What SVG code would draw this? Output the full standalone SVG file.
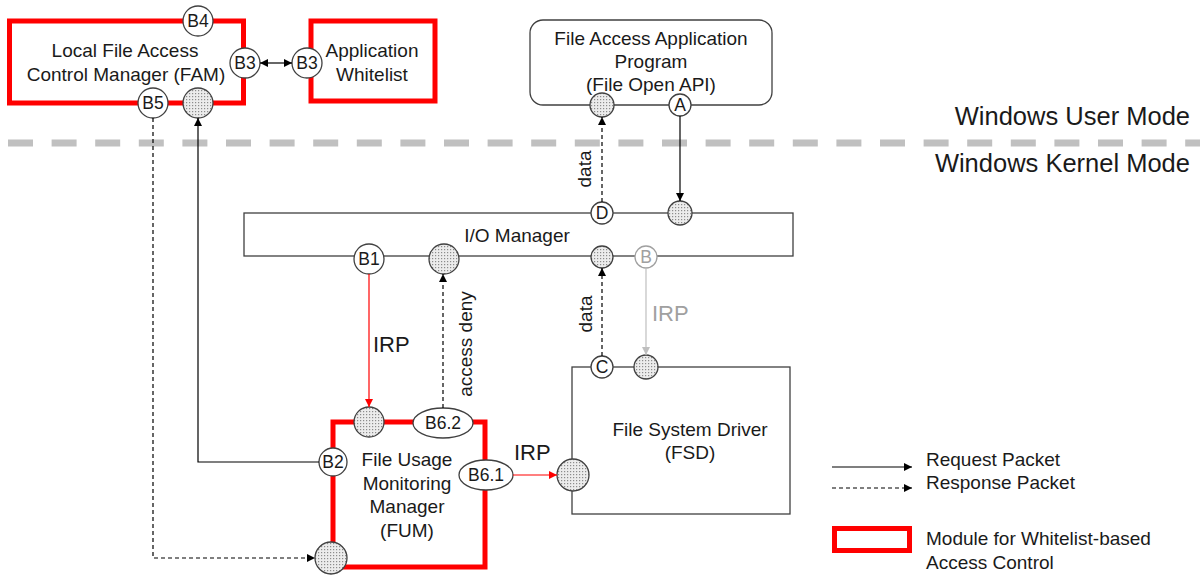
<svg xmlns="http://www.w3.org/2000/svg" width="1200" height="576" viewBox="0 0 1200 576">
<defs>
<pattern id="dots" width="3" height="3" patternUnits="userSpaceOnUse">
<rect width="3" height="3" fill="#ececec"/>
<rect width="1.2" height="1.2" fill="#8c8c8c"/>
</pattern>
<marker id="ah" viewBox="0 0 10 10" refX="10" refY="5" markerWidth="8" markerHeight="8" markerUnits="userSpaceOnUse" orient="auto-start-reverse">
<path d="M0,0 L10,5 L0,10 z" fill="#000"/>
</marker>
<marker id="ahr" viewBox="0 0 10 10" refX="10" refY="5" markerWidth="8" markerHeight="8" markerUnits="userSpaceOnUse" orient="auto">
<path d="M0,0 L10,5 L0,10 z" fill="#ff0000"/>
</marker>
<marker id="ahg" viewBox="0 0 10 10" refX="10" refY="5" markerWidth="8" markerHeight="8" markerUnits="userSpaceOnUse" orient="auto">
<path d="M0,0 L10,5 L0,10 z" fill="#bfbfbf"/>
</marker>
</defs>
<style>
text{font-family:"Liberation Sans",Arial,sans-serif;fill:#1a1a1a;}
.t{font-size:19px;text-anchor:middle;}
.lbl{font-size:17.5px;text-anchor:middle;}
.irp{font-size:22px;}
.mode{font-size:25.5px;text-anchor:end;}
.leg{font-size:19px;}
.box{fill:#fff;stroke:#404040;stroke-width:1.3;}
.red{fill:#fff;stroke:#ff0000;stroke-width:5;}
.port{fill:#fff;stroke:#404040;stroke-width:1.3;}
.sh{fill:url(#dots);stroke:#404040;stroke-width:1.3;}
.c{fill:none;stroke:#000;stroke-width:1.2;}
.d{fill:none;stroke:#000;stroke-width:1.2;stroke-dasharray:4,3;}
</style>

<line x1="8" y1="143" x2="1200" y2="143" stroke="#c0c0c0" stroke-width="7" stroke-dasharray="25,18.6"/>
<text class="mode" x="1190" y="125">Windows User Mode</text>
<text class="mode" x="1190" y="172">Windows Kernel Mode</text>

<g id="fam">
<rect class="red" x="9.5" y="21" width="234" height="82"/>
<text class="t" x="125" y="57">Local File Access</text>
<text class="t" x="126" y="81">Control Manager (FAM)</text>
<circle class="port" cx="198" cy="21" r="15"/>
<text class="lbl" x="198" y="27">B4</text>
<circle class="port" cx="245" cy="63" r="15"/>
<text class="lbl" x="245" y="69">B3</text>
<circle class="port" cx="153" cy="103" r="15"/>
<text class="lbl" x="153" y="109">B5</text>
<circle class="sh" cx="198" cy="103" r="15"/>
</g>

<g id="whitelist">
<rect class="red" x="311" y="21" width="124" height="80"/>
<text class="t" x="372" y="57">Application</text>
<text class="t" x="372" y="81">Whitelist</text>
<circle class="port" cx="307" cy="63" r="15"/>
<text class="lbl" x="307" y="69">B3</text>
</g>

<g id="app">
<rect class="box" x="530" y="20" width="242" height="85" rx="13"/>
<text class="t" x="651" y="45">File Access Application</text>
<text class="t" x="651" y="68">Program</text>
<text class="t" x="651" y="91">(File Open API)</text>
<circle class="sh" cx="602" cy="105" r="12"/>
<circle class="port" cx="680" cy="105" r="11"/>
<text class="lbl" x="680" y="111">A</text>
</g>

<g id="iomgr">
<rect class="box" x="244" y="213" width="549" height="43"/>
<text class="t" x="517" y="242">I/O Manager</text>
<circle class="port" cx="602" cy="213" r="11"/>
<text class="lbl" x="602" y="219">D</text>
<circle class="sh" cx="680" cy="213" r="12"/>
<circle class="port" cx="369" cy="259" r="15"/>
<text class="lbl" x="369" y="265">B1</text>
<circle class="sh" cx="444" cy="259" r="15"/>
<circle class="sh" cx="602" cy="257" r="11"/>
<circle cx="646" cy="257" r="11" fill="#fff" stroke="#a0a0a0" stroke-width="1.3"/>
<text class="lbl" x="646" y="263" style="fill:#a0a0a0">B</text>
</g>

<g id="fsd">
<rect class="box" x="572" y="367" width="218" height="147"/>
<text class="t" x="690" y="436">File System Driver</text>
<text class="t" x="690" y="459">(FSD)</text>
<circle class="port" cx="602" cy="367" r="11"/>
<text class="lbl" x="602" y="373">C</text>
<circle class="sh" cx="646" cy="367" r="12"/>
<circle class="sh" cx="573" cy="475" r="16"/>
</g>

<g id="fum">
<rect class="red" x="333" y="422" width="152" height="145"/>
<text class="t" x="407" y="466">File Usage</text>
<text class="t" x="407" y="490">Monitoring</text>
<text class="t" x="407" y="513">Manager</text>
<text class="t" x="407" y="537">(FUM)</text>
<circle class="sh" cx="369" cy="422" r="15"/>
<ellipse class="port" cx="443" cy="423" rx="30" ry="15"/>
<text class="lbl" x="443" y="429">B6.2</text>
<circle class="port" cx="333" cy="462" r="14"/>
<text class="lbl" x="333" y="468">B2</text>
<ellipse class="port" cx="486" cy="475" rx="27" ry="15"/>
<text class="lbl" x="486" y="481">B6.1</text>
<circle class="sh" cx="331" cy="558" r="16"/>
</g>

<g id="connectors">
<line class="c" x1="260" y1="63" x2="292" y2="63" marker-start="url(#ah)" marker-end="url(#ah)"/>
<line class="c" x1="680" y1="116" x2="680" y2="201" marker-end="url(#ah)"/>
<line class="d" x1="602" y1="202" x2="602" y2="117" marker-end="url(#ah)"/>
<line x1="369" y1="274" x2="369" y2="407" stroke="#ff0000" stroke-width="1.2" marker-end="url(#ahr)"/>
<line class="d" x1="443" y1="408" x2="443" y2="274" marker-end="url(#ah)"/>
<line x1="513" y1="475" x2="557" y2="475" stroke="#ff0000" stroke-width="1.2" marker-end="url(#ahr)"/>
<line class="d" x1="602" y1="356" x2="602" y2="268" marker-end="url(#ah)"/>
<line x1="646" y1="268" x2="646" y2="355" stroke="#bfbfbf" stroke-width="1.2" marker-end="url(#ahg)"/>
<polyline class="c" points="319,462 198,462 198,118" marker-end="url(#ah)"/>
<polyline class="d" points="153,118 153,558 315,558" marker-end="url(#ah)"/>
<text class="t" transform="translate(591,169) rotate(-90)">data</text>
<text class="t" transform="translate(592,314) rotate(-90)">data</text>
<text class="t" transform="translate(472,344) rotate(-90)">access deny</text>
<text class="irp" x="373" y="352">IRP</text>
<text class="irp" x="652" y="321" style="fill:#a0a0a0">IRP</text>
<text class="irp" x="514" y="460">IRP</text>
</g>

<g id="legend">
<line class="c" x1="832" y1="467" x2="912" y2="467" marker-end="url(#ah)"/>
<line class="d" x1="832" y1="488" x2="912" y2="488" marker-end="url(#ah)"/>
<text class="leg" x="926" y="466">Request Packet</text>
<text class="leg" x="926" y="489">Response Packet</text>
<rect class="red" x="834.5" y="528.5" width="75" height="22"/>
<text class="leg" x="926" y="545">Module for Whitelist-based</text>
<text class="leg" x="926" y="569">Access Control</text>
</g>
</svg>
